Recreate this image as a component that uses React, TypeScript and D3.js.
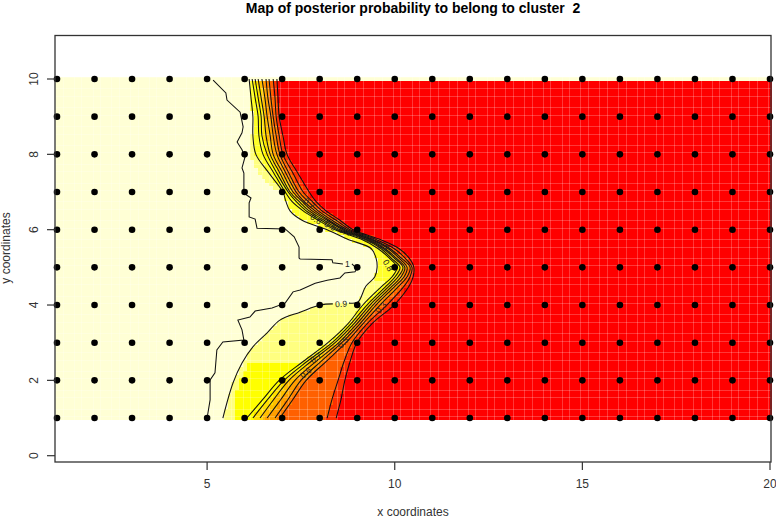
import React, { useMemo } from "react";
import * as d3 from "d3";

const FONT = "'Liberation Sans', Arial, sans-serif";
const titleText = "Map of posterior probability to belong to cluster  2";
const xLabel = "x coordinates";
const yLabel = "y coordinates";
const xTicks = [5, 10, 15, 20];
const yTicks = [0, 2, 4, 6, 8, 10];
const siteX = d3.range(1, 21);
const siteY = d3.range(1, 11);

// heat-map grid, step 0.1
const gridX = d3.range(0, 191).map((i) => 1 + i / 10);
const gridY = d3.range(0, 91).map((i) => 1 + i / 10);

const rowsY = [10, 9.5, 9, 8.5, 8, 7.5, 7, 6.75, 6.5, 6.25, 6, 5.75, 5.5, 5.25, 5, 4.75, 4.5, 4, 3.5, 3, 2.5, 2, 1.5, 1];
const level80 = [6.20,6.28,6.36,6.38,6.49,6.78,7.08,7.26,7.56,7.96,8.41,9.10,9.55,9.85,10.06,9.93,9.66,9.15,8.75,8.22,7.56,6.92,6.49,6.06];
const level70 = [6.28,6.36,6.44,6.46,6.60,6.86,7.16,7.37,7.64,8.04,8.47,9.18,9.63,9.90,10.14,10.01,9.77,9.26,8.83,8.33,7.66,7.05,6.62,6.22];
const level60 = [6.36,6.44,6.52,6.57,6.68,6.94,7.21,7.45,7.72,8.12,8.54,9.23,9.69,9.98,10.22,10.09,9.85,9.34,8.91,8.41,7.77,7.18,6.78,6.41];
const level50 = [6.46,6.54,6.60,6.68,6.76,7.02,7.29,7.53,7.80,8.20,8.61,9.29,9.74,10.03,10.27,10.17,9.93,9.42,8.99,8.51,7.90,7.34,6.97,6.60];
const level40 = [6.57,6.62,6.70,6.76,6.86,7.10,7.37,7.58,7.88,8.25,8.67,9.34,9.82,10.11,10.33,10.25,10.01,9.50,9.07,8.59,8.03,7.50,7.16,6.81];
const level30 = [6.65,6.70,6.76,6.84,6.94,7.18,7.45,7.69,7.96,8.33,8.74,9.39,9.87,10.17,10.41,10.33,10.11,9.61,9.15,8.70,8.17,7.64,7.29,6.94];
const level20 = [6.76,6.81,6.84,6.92,7.02,7.29,7.56,7.80,8.06,8.44,8.81,9.47,9.98,10.27,10.46,10.41,10.25,9.79,9.26,8.86,8.65,8.49,8.33,8.20];
const level10 = [6.86,6.89,6.92,7.02,7.13,7.42,7.72,7.90,8.17,8.54,8.89,9.58,10.11,10.38,10.51,10.49,10.38,9.98,9.39,8.99,8.81,8.67,8.57,8.44];

const level90Upper: [number, number][] = [[6.12,10],[6.17,9.5],[6.22,9],[6.22,8.5],[6.30,8],[6.65,7.5],[7.02,7],[7.10,6.75],[7.21,6.5],[7.53,6.25],[8.20,6],[8.73,5.75],[9.37,5.5],[9.50,5.25],[9.53,5],[9.47,4.75],[9.23,4.5],[9.02,4.08],[8.78,4.05]];
const level90Lower: [number, number][] = [[8.35,4.03],[8.01,4.0],[7.48,3.81],[6.94,3.6],[6.60,3.26],[6.22,2.89],[5.93,2.46],[5.69,1.93],[5.42,1]];

const level100Upper: [number, number][] = [[5.16,9.97],[5.50,9.63],[5.53,9.44],[5.88,9.12],[5.96,8.73],[5.93,8.57],[5.80,8.33],[5.93,8.12],[6.01,7.93],[5.93,7.64],[5.98,7.50],[5.98,6.97],[6.17,6.84],[6.12,6.71],[6.12,6.34],[6.28,6.28],[6.33,6.04],[7.08,6.02],[7.32,5.81],[7.45,5.54],[7.45,5.25],[7.48,5.22],[8.33,5.20],[8.35,5.12],[8.62,5.09]];
const level100Lower: [number, number][] = [[8.86,5.09],[8.99,4.96],[8.94,4.88],[8.67,4.85],[8.54,4.72],[8.20,4.66],[7.88,4.58],[7.48,4.40],[7.29,4.35],[7.08,4.05],[6.73,3.92],[6.28,3.84],[6.14,3.68],[5.82,3.60],[5.93,3.34],[5.98,3.07],[5.42,3.02],[5.26,2.81],[5.21,2.20],[5.08,2.01],[5.08,1.48],[5.00,1]];

const plateauBlock: [number, number][] = [[5.74,0.9],[5.74,1.6],[5.88,2.0],[6.09,2.5],[8,2.5],[6.5,0.9]];
const paleHalo: [number, number][] = [[6.14,8.51],[6.14,7.98],[6.36,7.53],[6.73,7.11],[7.02,7],[7.02,7.32],[6.62,7.72],[6.36,8.12],[6.25,8.51]];

const bandColors = ["#FFFFD5", "#FFFF80", "#FFFF00", "#FFDF00", "#FFBF00", "#FF9F00", "#FF8000", "#FF6000", "#FF3000", "#FF0000"];
const upperBandColor = "#FFFF2A";
const plateauColor = "#FFFF00";
const haloColor = "#FFFF80";
const upperBandFromY = 4.6;

const contourLabels = [
  { t: "1", x: 8.74, y: 5.09, a: 0 },
  { t: "0.9", x: 8.57, y: 4.03, a: -3 },
  { t: "0.6", x: 7.63, y: 2.20, a: -40 },
  { t: "0.7", x: 7.90, y: 2.60, a: -38 },
  { t: "0.5", x: 8.62, y: 3.00, a: -48 },
  { t: "0.3", x: 9.63, y: 3.93, a: -50 },
  { t: "0.8", x: 9.82, y: 5.05, a: 60 },
  { t: "0.7", x: 7.72, y: 6.70, a: 38 },
  { t: "0.6", x: 7.90, y: 6.28, a: 35 },
  { t: "0.5", x: 8.28, y: 6.10, a: 28 },
  { t: "0.4", x: 8.67, y: 5.95, a: 22 },
  { t: "0.3", x: 9.29, y: 5.75, a: 18 },
  { t: "0.2", x: 9.69, y: 5.55, a: 20 },
];

const W = 776;
const H = 518;
const x = d3.scaleLinear().domain([1, 20]).range([57, 770]);
const y = d3.scaleLinear().domain([0, 10]).range([455.7, 79]);
const BOX = { l: 55, r: 771, t: 35.5, b: 462 };

const zipRows = (xs: number[]): [number, number][] => xs.map((v, i) => [v, rowsY[i]]);
const toPolygon = (pts: [number, number][]): [number, number][] => [[30, pts[0][1]], ...pts, [30, pts[pts.length - 1][1]]];

const smooth = d3
  .line<[number, number]>()
  .x((d) => x(d[0]))
  .y((d) => y(d[1]))
  .curve(d3.curveCatmullRom.alpha(0.5));
const straight = d3
  .line<[number, number]>()
  .x((d) => x(d[0]))
  .y((d) => y(d[1]));

export default function App() {
  const lines = [level80, level70, level60, level50, level40, level30, level20, level10].map(zipRows);
  const cells = useMemo(() => {
    const polys = [[...level90Upper, ...level90Lower], ...lines].map(toPolygon);
    const out: { cx: number; cy: number; fill: string }[] = [];
    for (const gx of gridX) {
      for (const gy of gridY) {
        let n = 0;
        for (const p of polys) {
          if (d3.polygonContains(p, [gx, gy])) n++;
          else break;
        }
        let fill = bandColors[n];
        if (n === 0 && d3.polygonContains(paleHalo, [gx, gy])) fill = haloColor;
        if (n === 1) {
          if (d3.polygonContains(plateauBlock, [gx, gy])) fill = plateauColor;
          else if (gy > upperBandFromY) fill = upperBandColor;
        }
        out.push({ cx: gx, cy: gy, fill });
      }
    }
    return out;
  }, []);
  const dx = (x(1.1) - x(1)) / 2;
  const dy = (y(1) - y(1.1)) / 2;
  const sites = siteX.flatMap((a) => siteY.map((b) => [a, b]));
  const ink = "#333";
  const seamX = gridX.filter((_, i) => i % 5 === 0 || i % 5 === 2).map((v) => Math.round(x(v) - dx) + 0.5);
  const seamY = gridY.filter((_, i) => i % 5 === 0 || i % 5 === 2).map((v) => Math.round(y(v) - dy) + 0.5);
  const imgTop = y(10) - dy;
  const imgBottom = y(1) + dy;

  return (
    <svg width={W} height={H} style={{ position: "absolute", left: 0, top: 0, background: "#fff" }} fontFamily={FONT}>
      <g shapeRendering="crispEdges">
        {cells.map((c, i) => (
          <rect key={i} x={x(c.cx) - dx} y={y(c.cy) - dy} width={2 * dx} height={2 * dy} fill={c.fill} />
        ))}
      </g>
      <g stroke="#fff" strokeOpacity={0.22} strokeWidth={1}>
        {seamX.map((v, i) => (
          <line key={i} x1={v} x2={v} y1={imgTop} y2={imgBottom} />
        ))}
        {seamY.map((v, i) => (
          <line key={i} y1={v} y2={v} x1={BOX.l} x2={BOX.r} />
        ))}
      </g>
      <g fill="none" stroke="#111" strokeWidth={1.05}>
        {lines.map((l, i) => (
          <path key={i} d={smooth(l) ?? ""} />
        ))}
        <path d={smooth(level90Upper) ?? ""} />
        <path d={smooth(level90Lower) ?? ""} />
        <path d={straight(level100Upper) ?? ""} />
        <path d={straight(level100Lower) ?? ""} />
      </g>
      <g fontSize={8.5} fill="#222" textAnchor="middle">
        {contourLabels.map((l, i) => (
          <text key={i} transform={`translate(${x(l.x)},${y(l.y)}) rotate(${l.a})`} dy="0.35em">
            {l.t}
          </text>
        ))}
      </g>
      <g fill="#000">
        {sites.map((s, i) => (
          <circle key={i} cx={x(s[0])} cy={y(s[1])} r={3.3} />
        ))}
      </g>
      <rect x={BOX.l} y={BOX.t} width={BOX.r - BOX.l} height={BOX.b - BOX.t} fill="none" stroke={ink} strokeWidth={1.3} />
      <g stroke={ink} strokeWidth={1.2}>
        {xTicks.map((t) => (
          <line key={t} x1={x(t)} x2={x(t)} y1={BOX.b} y2={BOX.b + 8} />
        ))}
        {yTicks.map((t) => (
          <line key={t} y1={y(t)} y2={y(t)} x1={BOX.l} x2={BOX.l - 8} />
        ))}
      </g>
      <g fontSize={12} fill={ink} textAnchor="middle">
        {xTicks.map((t) => (
          <text key={t} x={x(t)} y={488}>
            {t}
          </text>
        ))}
        {yTicks.map((t) => (
          <text key={t} transform={`translate(38,${y(t)}) rotate(-90)`}>
            {t}
          </text>
        ))}
        <text x={413} y={516}>{xLabel}</text>
        <text transform={`translate(10,248) rotate(-90)`}>{yLabel}</text>
      </g>
      <text x={413} y={13} textAnchor="middle" fontSize={14} fontWeight="bold" fill="#000" style={{ whiteSpace: "pre" }}>
        {titleText}
      </text>
    </svg>
  );
}
